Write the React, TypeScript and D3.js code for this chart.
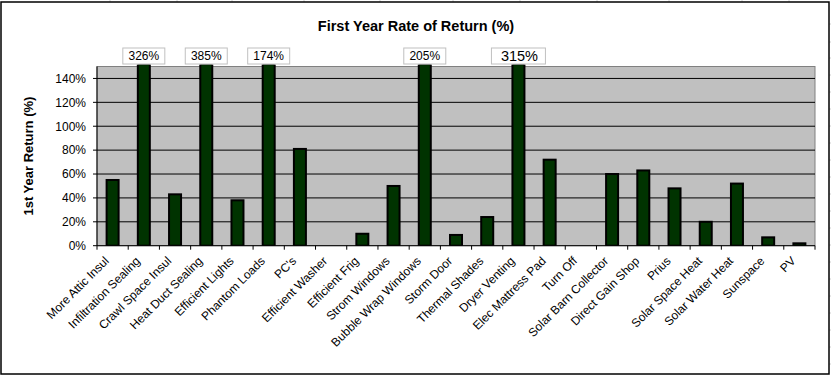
import React from "react";
import * as d3 from "d3";

const categories = [
  "More Attic Insul", "Infiltration Sealing", "Crawl Space Insul", "Heat Duct Sealing",
  "Efficient Lights", "Phantom Loads", "PC's", "Efficient Washer", "Efficient Frig",
  "Strom Windows", "Bubble Wrap Windows", "Storm Door", "Thermal Shades", "Dryer Venting",
  "Elec Mattress Pad", "Turn Off", "Solar Barn Collector", "Direct Gain Shop", "Prius",
  "Solar Space Heat", "Solar Water Heat", "Sunspace", "PV",
];
const values = [
  0.55, 3.26, 0.43, 3.85, 0.38, 1.74, 0.81, 0, 0.10, 0.50, 2.05, 0.09, 0.24, 3.15,
  0.72, 0, 0.60, 0.63, 0.48, 0.20, 0.52, 0.07, 0.02,
];
const overflowLabels = ["326%", "385%", "174%", "205%", "315%"];
const overflowLabelSizes = [12, 12, 12, 12, 14.5];
const yTicks = [0, 0.2, 0.4, 0.6, 0.8, 1.0, 1.2, 1.4];

const W = 831, H = 376;
const plot = { left: 97, right: 815, top: 66.5, bottom: 245.7 };
const FONT = "Arial, 'Liberation Sans', sans-serif";

export default function App() {
  const x = d3.scaleBand().domain(categories).range([plot.left, plot.right]).paddingInner(0).paddingOuter(0);
  const y = d3.scaleLinear().domain([0, 1.5]).range([plot.bottom, plot.top]);
  const barW = 12;
  const overflowIdx = values.map((v, i) => (v > 1.5 ? i : -1)).filter((i) => i >= 0);

  return (
    <svg width={W} height={H} style={{ position: "absolute", left: 0, top: 0, background: "#fff" }}
      fontFamily={FONT}>
      {/* spreadsheet grid remnants */}
      {[110, 177, 232, 304, 380, 453, 520, 597, 669, 742, 789].map((gx) => (
        <line key={"g" + gx} x1={gx} x2={gx} y1={0} y2={2} stroke="#d0d0d0" />
      ))}
      {[24, 42, 58, 75, 92, 109, 126, 143, 160, 177, 194, 211, 228, 245, 262, 279, 296, 313, 330, 347, 364].map((gy) => (
        <line key={"h" + gy} x1={829} x2={831} y1={gy} y2={gy} stroke="#d0d0d0" />
      ))}
      <rect x={1} y={2} width={828} height={372} fill="#fff" stroke="#000" strokeWidth={1.5} />

      <text x={416} y={31} textAnchor="middle" fontSize={14.5} fontWeight="bold">First Year Rate of Return (%)</text>

      <rect x={plot.left} y={plot.top} width={plot.right - plot.left} height={plot.bottom - plot.top}
        fill="#C0C0C0" stroke="#808080" strokeWidth={1} />
      {yTicks.slice(1).map((t) => (
        <line key={t} x1={plot.left} x2={plot.right} y1={y(t)} y2={y(t)} stroke="#000" strokeWidth={1} />
      ))}

      <defs>
        <clipPath id="pc">
          <rect x={plot.left} y={plot.top - 2} width={plot.right - plot.left} height={plot.bottom - plot.top + 2} />
        </clipPath>
      </defs>
      <g clipPath="url(#pc)">
        {values.map((v, i) => {
          const cx = (x(categories[i]) as number) + x.bandwidth() / 2;
          if (v <= 0) return null;
          const top = y(Math.min(v, 1.52));
          return (
            <rect key={i} x={cx - barW / 2} y={top} width={barW} height={plot.bottom - top}
              fill="#003300" stroke="#000" strokeWidth={2} />
          );
        })}
      </g>

      {/* axes */}
      <line x1={plot.left} x2={plot.left} y1={plot.top} y2={plot.bottom} stroke="#000" />
      <line x1={plot.left} x2={plot.right} y1={plot.bottom} y2={plot.bottom} stroke="#000" />
      {yTicks.map((t) => (
        <g key={"yt" + t}>
          <line x1={plot.left - 4} x2={plot.left} y1={y(t)} y2={y(t)} stroke="#000" />
          <text x={86} y={y(t)} dy="0.36em" textAnchor="end" fontSize={12}>{d3.format(".0%")(t)}</text>
        </g>
      ))}
      {categories.map((c, i) => (
        <line key={"xt" + i} x1={x(c) as number} x2={x(c) as number} y1={plot.bottom} y2={plot.bottom + 4} stroke="#000" />
      ))}
      <line x1={plot.right} x2={plot.right} y1={plot.bottom} y2={plot.bottom + 4} stroke="#000" />

      {categories.map((c, i) => {
        const cx = (x(c) as number) + x.bandwidth() / 2;
        return (
          <text key={"xl" + i} transform={`translate(${cx - 3},${plot.bottom + 16}) rotate(-45)`}
            textAnchor="end" fontSize={12}>{c}</text>
        );
      })}

      <text transform={`translate(33,${(plot.top + plot.bottom) / 2}) rotate(-90)`} textAnchor="middle"
        fontSize={13} fontWeight="bold">1st Year Return (%)</text>

      {overflowIdx.map((i, k) => {
        const cx = (x(categories[i]) as number) + x.bandwidth() / 2;
        const label = overflowLabels[k];
        const fs = overflowLabelSizes[k];
        const w = fs > 12 ? 54 : 42;
        return (
          <g key={"ov" + i}>
            <rect x={cx - w / 2} y={48} width={w} height={16} fill="#fff" stroke="#c0c0c0" strokeWidth={1} />
            <text x={cx + (fs > 12 ? 1 : 0)} y={55.5} dy="0.36em" textAnchor="middle" fontSize={fs}>{label}</text>
          </g>
        );
      })}
    </svg>
  );
}
